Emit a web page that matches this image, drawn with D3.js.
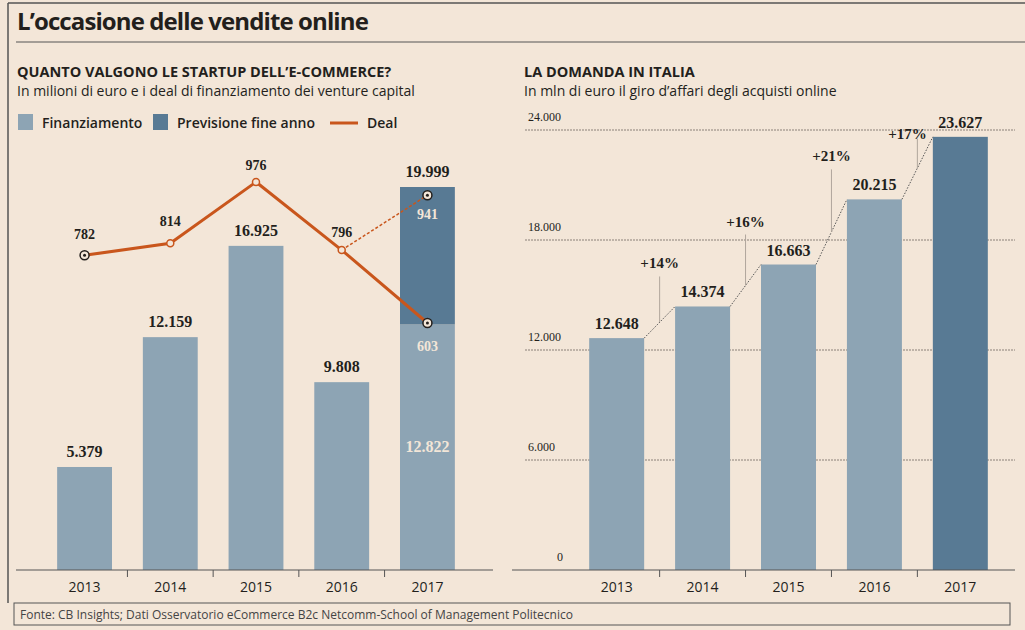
<!DOCTYPE html><html><head><meta charset="utf-8"><script src="https://cdn.jsdelivr.net/npm/d3@7"></script>
<style>body{margin:0;background:#f3e6d8}svg{font-family:"Open Sans",sans-serif}</style></head><body>
<script>
const years=["2013","2014","2015","2016","2017"];
const finanziamento=[5379,12159,16925,9808,12822];
const previsione=[0,0,0,0,7177];
const totalLabels=["5.379","12.159","16.925","9.808","19.999"];
const deal=[782,814,976,796,603];
const dealForecast=941;
const domanda=[12648,14374,16663,20215,23627];
const domandaLabels=["12.648","14.374","16.663","20.215","23.627"];
const growth=["+14%","+16%","+21%","+17%"];
const rightTicks=[0,6000,12000,18000,24000];
const rightTickLabels=["0","6.000","12.000","18.000","24.000"];

const light="#8da4b4",dark="#587a94",orange="#c9561c",ink="#231f1c";
const svg=d3.select("body").append("svg").attr("width",1025).attr("height",630);
svg.append("rect").attr("width",1025).attr("height",630).attr("fill","#f3e6d8");
svg.append("line").attr("x1",8).attr("x2",1025).attr("y1",3).attr("y2",3).attr("stroke","#555").attr("stroke-width",1.5);
svg.append("line").attr("x1",8).attr("x2",8).attr("y1",3).attr("y2",603).attr("stroke","#555").attr("stroke-width",1.5);
svg.append("line").attr("x1",16).attr("x2",1025).attr("y1",42).attr("y2",42).attr("stroke","#555");
svg.append("text").attr("x",17).attr("y",30).attr("font-size",24).attr("font-weight",700).attr("fill",ink).attr("letter-spacing",-0.9).text("L’occasione delle vendite online");
svg.append("text").attr("x",17).attr("y",77).attr("font-size",14.5).attr("font-weight",700).attr("fill",ink).text("QUANTO VALGONO LE STARTUP DELL’E-COMMERCE?");
svg.append("text").attr("x",17).attr("y",96).attr("font-size",14).attr("fill",ink).text("In milioni di euro e i deal di finanziamento dei venture capital");
svg.append("text").attr("x",524).attr("y",77).attr("font-size",14.5).attr("font-weight",700).attr("fill",ink).text("LA DOMANDA IN ITALIA");
svg.append("text").attr("x",524).attr("y",96).attr("font-size",14).attr("fill",ink).text("In mln di euro il giro d’affari degli acquisti online");
const lg=svg.append("g").attr("font-size",14).attr("font-weight",600).attr("fill",ink);
lg.append("rect").attr("x",18).attr("y",114).attr("width",15).attr("height",16).attr("fill",light);
lg.append("text").attr("x",42).attr("y",128).text("Finanziamento");
lg.append("rect").attr("x",153).attr("y",114).attr("width",15).attr("height",16).attr("fill",dark);
lg.append("text").attr("x",177).attr("y",128).text("Previsione fine anno");
lg.append("line").attr("x1",330).attr("x2",358).attr("y1",123).attr("y2",123).attr("stroke",orange).attr("stroke-width",3);
lg.append("text").attr("x",367).attr("y",128).text("Deal");

const xL=d3.scaleBand().domain(years).range([40,472]).paddingInner(0.36).paddingOuter(0.2);
const yL=d3.scaleLinear().domain([0,19999]).range([570,187]);
const yD=d3.scaleLinear().domain([603,976]).range([323,182]);
const gL=svg.append("g");
gL.selectAll(".f").data(years).join("rect").attr("x",d=>xL(d)).attr("width",xL.bandwidth())
 .attr("y",(d,i)=>yL(finanziamento[i])).attr("height",(d,i)=>570-yL(finanziamento[i])).attr("fill",light);
gL.selectAll(".p").data(years.filter((d,i)=>previsione[i]>0)).join("rect").attr("x",d=>xL(d)).attr("width",xL.bandwidth())
 .attr("y",d=>{const i=years.indexOf(d);return yL(finanziamento[i]+previsione[i]);})
 .attr("height",d=>{const i=years.indexOf(d);return yL(finanziamento[i])-yL(finanziamento[i]+previsione[i]);}).attr("fill",dark);
gL.selectAll(".tl").data(years).join("text").attr("x",d=>xL(d)+xL.bandwidth()/2)
 .attr("y",(d,i)=>yL(finanziamento[i]+previsione[i])-10).attr("text-anchor","middle")
 .attr("font-family","Liberation Serif,serif").attr("font-weight",700).attr("font-size",16).attr("fill",ink).text((d,i)=>totalLabels[i]);
const cx=d=>xL(d)+xL.bandwidth()/2;
gL.append("text").attr("x",cx("2017")).attr("y",452).attr("text-anchor","middle").attr("font-family","Liberation Serif,serif").attr("font-weight",700).attr("font-size",16).attr("fill","#f3e6d8").text("12.822");
gL.append("line").attr("x1",cx("2016")).attr("y1",yD(deal[3])).attr("x2",cx("2017")).attr("y2",yD(dealForecast)).attr("stroke",orange).attr("stroke-width",1.5).attr("stroke-dasharray","3,2");
gL.append("path").attr("d",d3.line().x((d,i)=>cx(years[i])).y(d=>yD(d))(deal)).attr("fill","none").attr("stroke",orange).attr("stroke-width",3);
const pts=deal.map((v,i)=>({x:cx(years[i]),y:yD(v),v,i}));
pts.push({x:cx("2017"),y:yD(dealForecast),v:dealForecast,i:5});
gL.selectAll("circle.o").data(pts).join("circle").attr("cx",d=>d.x).attr("cy",d=>d.y).attr("r",d=>(d.i==0||d.i>=4)?4.5:3.5)
 .attr("fill","#f3e6d8").attr("stroke",d=>(d.i==0||d.i>=4)?ink:orange).attr("stroke-width",1.5);
gL.selectAll("circle.c").data(pts.filter(d=>d.i==0||d.i>=4)).join("circle").attr("cx",d=>d.x).attr("cy",d=>d.y).attr("r",1.5).attr("fill",ink);
const dl=[{i:0,dy:-16},{i:1,dy:-17},{i:2,dy:-12},{i:3,dy:-13}];
gL.selectAll(".dl").data(dl).join("text").attr("x",d=>pts[d.i].x).attr("y",d=>pts[d.i].y+d.dy).attr("text-anchor","middle")
 .attr("font-family","Liberation Serif,serif").attr("font-weight",700).attr("font-size",14).attr("fill",ink).text(d=>deal[d.i]);
gL.append("text").attr("x",cx("2017")).attr("y",yD(dealForecast)+24).attr("text-anchor","middle").attr("font-family","Liberation Serif,serif").attr("font-weight",700).attr("font-size",14).attr("fill","#f3e6d8").text(dealForecast);
gL.append("text").attr("x",cx("2017")).attr("y",yD(deal[4])+28).attr("text-anchor","middle").attr("font-family","Liberation Serif,serif").attr("font-weight",700).attr("font-size",14).attr("fill","#f3e6d8").text(deal[4]);
const axL=gL.append("g").attr("transform","translate(0,570)").call(d3.axisBottom(xL).tickSize(0).tickPadding(12));
axL.select(".domain").attr("d","M16,0H493").attr("stroke","#555");
axL.selectAll("text").attr("font-size",14).attr("fill",ink).attr("font-family","Open Sans,sans-serif");
gL.selectAll(".sep").data(years.slice(1)).join("line").attr("x1",d=>xL(d)-xL.step()*xL.paddingInner()/2).attr("x2",d=>xL(d)-xL.step()*xL.paddingInner()/2).attr("y1",570).attr("y2",577).attr("stroke","#555");

const xR=d3.scaleBand().domain(years).range([572,1005]).paddingInner(0.36).paddingOuter(0.2);
const yR=d3.scaleLinear().domain([0,24000]).range([570,130]);
const gR=svg.append("g");
gR.selectAll(".g").data(rightTicks.slice(1)).join("line").attr("x1",525).attr("x2",1015).attr("y1",d=>yR(d)).attr("y2",d=>yR(d)).attr("stroke","#8a8078").attr("stroke-dasharray","2,1");
gR.selectAll(".gl").data(rightTicks).join("text").attr("x",d=>d==0?557:528).attr("y",d=>yR(d)-9).attr("font-family","Liberation Serif,serif").attr("font-size",12).attr("fill",ink).text((d,i)=>rightTickLabels[i]);
gR.selectAll(".b").data(years).join("rect").attr("x",d=>xR(d)).attr("width",xR.bandwidth()).attr("y",(d,i)=>yR(domanda[i])).attr("height",(d,i)=>570-yR(domanda[i])).attr("fill",(d,i)=>i==4?dark:light);
gR.selectAll(".bl").data(years).join("text").attr("x",d=>xR(d)+xR.bandwidth()/2).attr("y",(d,i)=>yR(domanda[i])-9).attr("text-anchor","middle")
 .attr("font-family","Liberation Serif,serif").attr("font-weight",700).attr("font-size",16).attr("fill",ink).text((d,i)=>domandaLabels[i]);
const gdat=growth.map((g,i)=>{const x1=xR(years[i])+xR.bandwidth(),y1=yR(domanda[i]),x2=xR(years[i+1]),y2=yR(domanda[i+1]);
 const ly=i==3?y2+2:y2-38;return {g,i,x1,y1,x2,y2,mx:(x1+x2)/2,my:(y1+y2)/2,ly};});
gR.selectAll(".cn").data(gdat).join("line").attr("x1",d=>d.x1).attr("y1",d=>d.y1).attr("x2",d=>d.x2).attr("y2",d=>d.y2).attr("stroke","#555").attr("stroke-dasharray","1.5,1.5");
gR.selectAll(".ld").data(gdat).join("line").attr("x1",d=>d.mx).attr("x2",d=>d.mx).attr("y1",d=>d.my).attr("y2",d=>d.i==3?d.y2+2:d.ly+8).attr("stroke","#b0a69c");
gR.selectAll(".gt").data(gdat).join("text").attr("x",d=>d.i==3?d.x2-6:d.mx).attr("y",d=>d.ly).attr("text-anchor",d=>d.i==3?"end":"middle")
 .attr("font-family","Liberation Serif,serif").attr("font-weight",700).attr("font-size",15).attr("fill",ink).text(d=>d.g);
const axR=gR.append("g").attr("transform","translate(0,570)").call(d3.axisBottom(xR).tickSize(0).tickPadding(12));
axR.select(".domain").attr("d","M512,0H1015").attr("stroke","#555");
axR.selectAll("text").attr("font-size",14).attr("fill",ink).attr("font-family","Open Sans,sans-serif");
gR.selectAll(".sep").data(years.slice(1)).join("line").attr("x1",d=>xR(d)-xR.step()*xR.paddingInner()/2).attr("x2",d=>xR(d)-xR.step()*xR.paddingInner()/2).attr("y1",570).attr("y2",577).attr("stroke","#555");

svg.append("rect").attr("x",14).attr("y",603).attr("width",996).attr("height",22).attr("fill","none").attr("stroke","#555");
svg.append("text").attr("x",20).attr("y",619).attr("font-size",12).attr("fill","#444").text("Fonte: CB Insights; Dati Osservatorio eCommerce B2c Netcomm-School of Management Politecnico");
</script></body></html>
